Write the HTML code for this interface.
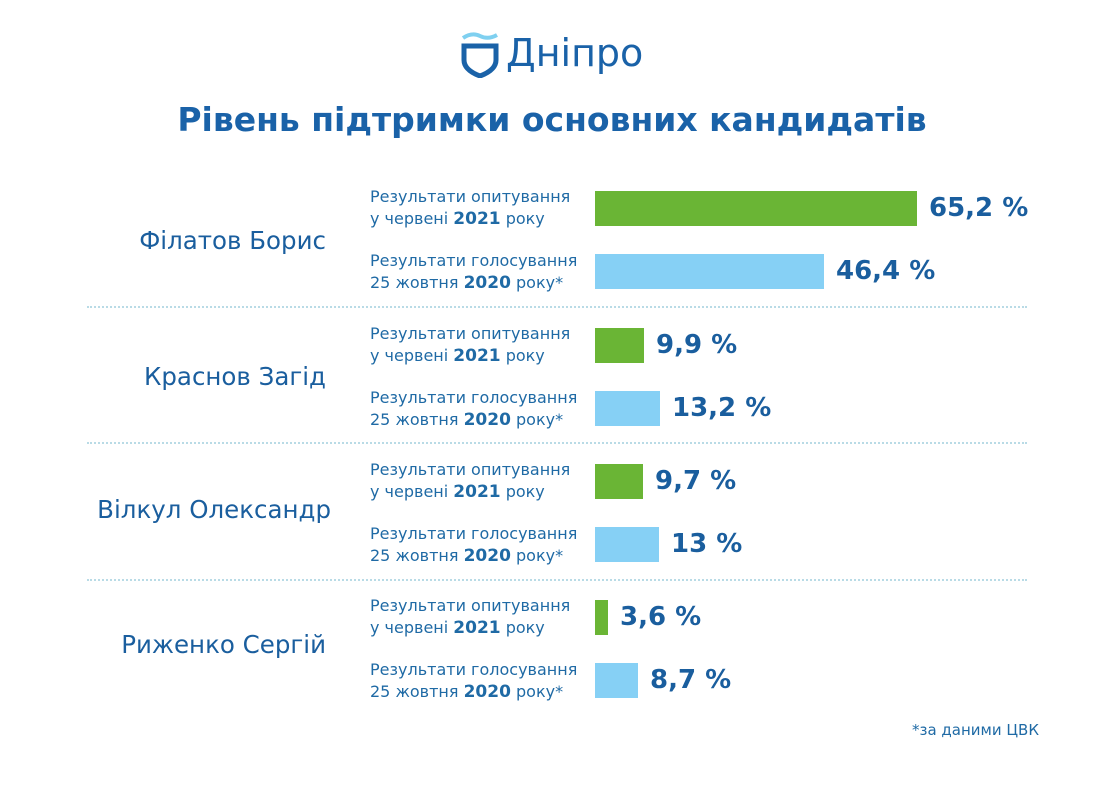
<!DOCTYPE html>
<html><head><meta charset="utf-8"><style>
body{margin:0;width:1110px;height:785px;background:#fff;position:relative;overflow:hidden;font-family:"DejaVu Sans","Liberation Sans",sans-serif;color:#1a5e9e}
.a{position:absolute;white-space:nowrap}
.lbl{font-size:16px;line-height:22px;color:#1f6aa5}
.lbl b{font-size:17px}
.nm{font-size:24.5px;color:#1a5e9e;width:300px;text-align:right;left:26px}
.val{font-size:26px;font-weight:bold;color:#1a5e9e}
.g{position:absolute;background:#6ab535;height:35px;left:595px}
.bl{position:absolute;background:#86d0f5;height:35px;left:595px}
.hr{position:absolute;left:87px;width:940px;border-top:2px dotted #b9dbe6;height:0}
</style></head><body>
<svg class="a" style="left:460px;top:32px" width="40" height="46" viewBox="0 0 40 46">
<path d="M3 6 Q12 0 20 4 Q28 8 37 3" stroke="#7fd0f0" stroke-width="4" fill="none"/>
<path d="M4 14 L36 14 L36 28 Q36 38 20 44 Q4 38 4 28 Z" stroke="#1a62a8" stroke-width="5" fill="none"/>
</svg>
<div class="a" style="left:506px;top:31px;font-size:38px;color:#1a62a8">Дніпро</div>
<div class="a" style="left:0;width:1104px;text-align:center;top:100px;font-size:33px;font-weight:bold;color:#1a62a8">Рівень підтримки основних кандидатів</div>

<div class="a nm" style="top:226px">Філатов Борис</div>
<div class="a lbl" style="left:370px;top:186px">Результати опитування<br>у червені <b>2021</b> року</div>
<div class="g" style="top:191px;width:322px"></div><div class="a val" style="left:929px;top:193px">65,2 %</div>
<div class="a lbl" style="left:370px;top:250px">Результати голосування<br>25 жовтня <b>2020</b> року*</div>
<div class="bl" style="top:254px;width:229px"></div><div class="a val" style="left:836px;top:256px">46,4 %</div>
<div class="hr" style="top:306px"></div>

<div class="a nm" style="top:362px">Краснов Загід</div>
<div class="a lbl" style="left:370px;top:323px">Результати опитування<br>у червені <b>2021</b> року</div>
<div class="g" style="top:328px;width:49px"></div><div class="a val" style="left:656px;top:330px">9,9 %</div>
<div class="a lbl" style="left:370px;top:387px">Результати голосування<br>25 жовтня <b>2020</b> року*</div>
<div class="bl" style="top:391px;width:65px"></div><div class="a val" style="left:672px;top:393px">13,2 %</div>
<div class="hr" style="top:442px"></div>

<div class="a nm" style="top:495px;left:31px">Вілкул Олександр</div>
<div class="a lbl" style="left:370px;top:459px">Результати опитування<br>у червені <b>2021</b> року</div>
<div class="g" style="top:464px;width:48px"></div><div class="a val" style="left:655px;top:466px">9,7 %</div>
<div class="a lbl" style="left:370px;top:523px">Результати голосування<br>25 жовтня <b>2020</b> року*</div>
<div class="bl" style="top:527px;width:64px"></div><div class="a val" style="left:671px;top:529px">13 %</div>
<div class="hr" style="top:579px"></div>

<div class="a nm" style="top:630px">Риженко Сергій</div>
<div class="a lbl" style="left:370px;top:595px">Результати опитування<br>у червені <b>2021</b> року</div>
<div class="g" style="top:600px;width:13px"></div><div class="a val" style="left:620px;top:602px">3,6 %</div>
<div class="a lbl" style="left:370px;top:659px">Результати голосування<br>25 жовтня <b>2020</b> року*</div>
<div class="bl" style="top:663px;width:43px"></div><div class="a val" style="left:650px;top:665px">8,7 %</div>

<div class="a" style="left:912px;top:721px;font-size:15px;color:#1f6aa5">*за даними ЦВК</div>
</body></html>
